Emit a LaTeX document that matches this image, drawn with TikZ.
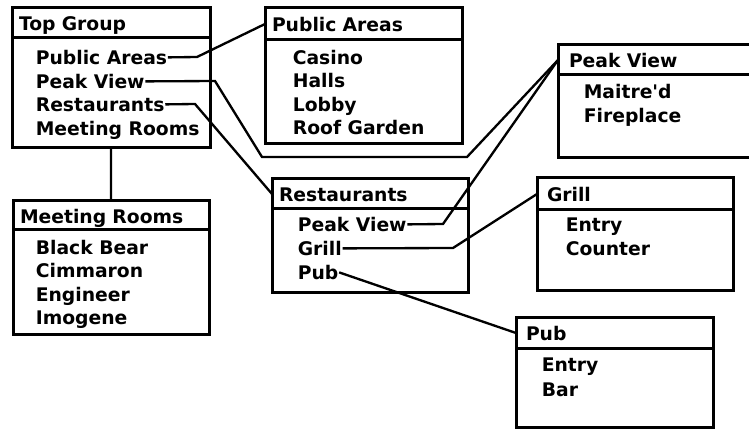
\documentclass[tikz,border=0pt]{standalone}
\usepackage{fontspec}
\setmainfont{DejaVu Sans}
\usetikzlibrary{calc}

\begin{document}
\begin{tikzpicture}[x=0.03cm, y=-0.03cm,
    every node/.style={font=\bfseries\fontsize{16}{18}\selectfont},
    hdr/.style={draw, line width=0.09cm, anchor=north west, outer sep=0pt, inner xsep=0.21cm, inner ysep=0pt, align=left, text height=13pt, text depth=0pt},
    bodybox/.style={draw, line width=0.09cm, anchor=north west, outer sep=0pt, inner sep=0pt},
    item/.style={anchor=base west, inner sep=0.5pt, text height=13pt, text depth=0pt},
    link/.style={line width=0.07cm, line join=miter}]
			%%%%% START %%%%%
			\useasboundingbox (0, 0) rectangle (749, 429);
			
			% Top Group
			\node[hdr, text width=5.52cm, minimum height=0.9cm] (tgHead) at (12, 8) {Top Group};
			\node[bodybox, minimum width=5.94cm, minimum height=3.27cm] (tgBody) at (tgHead.south west) {};
			\node[item] (tgPub) at (35, 65) {Public Areas};
			\node[item] (tgPeak) at (35, 89) {Peak View};
			\node[item] (tgRest) at (35, 112) {Restaurants};
			\node[item] (tgMeet) at (35, 136) {Meeting Rooms};
			
			% Public Areas
			\node[hdr, text width=5.49cm, minimum height=0.96cm] (paHead) at (265, 8) {Public Areas};
			\node[bodybox, minimum width=5.91cm, minimum height=3.09cm] (paBody) at (paHead.south west) {};
			\node[item] (paCasino) at (292, 65) {Casino};
			\node[item] (paHalls) at (292, 88) {Halls};
			\node[item] (paLobby) at (292, 112) {Lobby};
			\node[item] (paRoof) at (292, 135) {Roof Garden};
			
			% Peak View
			\node[hdr, inner xsep=0.33cm, text width=5.34cm, minimum height=0.9cm] (pvHead) at (558, 45) {Peak View};
			\node[bodybox, minimum width=6.0cm, minimum height=2.46cm] (pvBody) at (pvHead.south west) {};
			\node[item] (pvMaitre) at (583, 99) {Maitre\textquotesingle d};
			\node[item] (pvFire) at (583, 123) {Fireplace};
			
			% Meeting Rooms
			\node[hdr, text width=5.46cm, minimum height=0.87cm] (mrHead) at (13, 201) {Meeting Rooms};
			\node[bodybox, minimum width=5.88cm, minimum height=3.12cm] (mrBody) at (mrHead.south west) {};
			\node[item] (mrBear) at (35, 255) {Black Bear};
			\node[item] (mrCimm) at (35, 278) {Cimmaron};
			\node[item] (mrEng) at (35, 302) {Engineer};
			\node[item] (mrImo) at (35, 325) {Imogene};
			
			% Restaurants
			\node[hdr, text width=5.46cm, minimum height=0.9cm] (rsHead) at (272, 179) {Restaurants};
			\node[bodybox, minimum width=5.88cm, minimum height=2.49cm] (rsBody) at (rsHead.south west) {};
			\node[item] (rsPeak) at (297, 232) {Peak View};
			\node[item] (rsGrill) at (297, 256) {Grill};
			\node[item] (rsPub) at (297, 280) {Pub};
			
			% Grill
			\node[hdr, inner xsep=0.3cm, text width=5.28cm, minimum height=0.96cm] (grHead) at (537, 178) {Grill};
			\node[bodybox, minimum width=5.88cm, minimum height=2.4cm] (grBody) at (grHead.south west) {};
			\node[item] (grEntry) at (565, 232) {Entry};
			\node[item] (grCounter) at (565, 256) {Counter};
			
			% Pub
			\node[hdr, inner xsep=0.3cm, text width=5.31cm, minimum height=0.9cm] (pbHead) at (516, 318) {Pub};
			\node[bodybox, minimum width=5.91cm, minimum height=2.37cm] (pbBody) at (pbHead.south west) {};
			\node[item] (pbEntry) at (541, 372) {Entry};
			\node[item] (pbBar) at (541, 397) {Bar};
			
			% links
			\draw[link] (tgPub.east) -- (197, 57) -- (paHead.west);
			\draw[link] (tgPeak.east) -- (215, 81) -- (262, 157) -- (467, 157) -- (pvHead.west);
			\draw[link] (tgRest.east) -- (195, 104) -- (rsHead.west);
			\draw[link] (tgBody.south) -- (mrHead.north);
			\draw[link] (rsPeak.east) -- (443, 224) -- (pvHead.west);
			\draw[link] (rsGrill.east) -- (453, 248) -- (grHead.west);
			\draw[link] (rsPub.east) -- (pbHead.west);
			
			%%%%% END %%%%%
\end{tikzpicture}
\end{document}
